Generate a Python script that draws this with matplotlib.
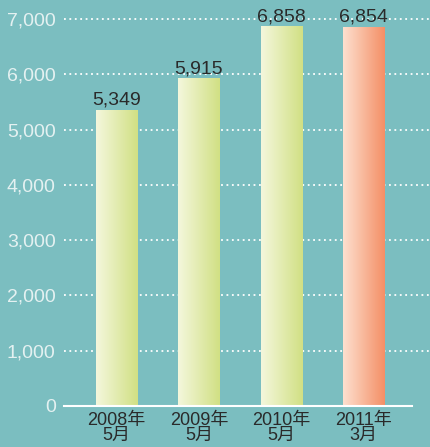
import numpy as np
import matplotlib.pyplot as plt
from matplotlib.colors import LinearSegmentedColormap

plt.rcParams['font.family'] = ['Liberation Sans', 'Noto Sans CJK JP', 'DejaVu Sans']

# データ
labels = ['2008年\n5月', '2009年\n5月', '2010年\n5月', '2011年\n3月']
values = [5349, 5915, 6858, 6854]
yticks = [0, 1000, 2000, 3000, 4000, 5000, 6000, 7000]

bg = '#7bbec0'
green = LinearSegmentedColormap.from_list('g', ['#f4f7dc', '#d1e084'])
orange = LinearSegmentedColormap.from_list('o', ['#fde0cf', '#f48f66'])
cmaps = [green, green, green, orange]

fig = plt.figure(figsize=(4.31, 4.47), dpi=100, facecolor=bg)
ax = fig.add_axes([64/431, 41/447, 1 - 64/431, 406/447])
ax.set_facecolor(bg)

x = np.arange(len(values))
w = 0.5
ymax = 7000 * 406 / 387

# 点線のグリッド
for t in yticks[1:]:
    ax.axhline(t, color='white', lw=1.3, ls=(0, (1, 2)), zorder=1)

# グラデーションの棒
grad = np.linspace(0, 1, 100).reshape(1, -1)
for xi, v, cm in zip(x, values, cmaps):
    ax.imshow(grad, cmap=cm, aspect='auto', extent=[xi - w/2, xi + w/2, 0, v],
              zorder=2, interpolation='bilinear')
    ax.text(xi, v + 25, f'{v:,}', ha='center', va='bottom', fontsize=14,
            color='#2a2a2a', zorder=3)

ax.set_xlim(-0.638, 3.82)
ax.set_ylim(0, ymax)

# x軸の線
ax.axhline(0, xmin=0, xmax=(412 - 64) / (431 - 64), color='white', lw=1.5,
           zorder=3, clip_on=False)

for s in ax.spines.values():
    s.set_visible(False)

ax.set_yticks(yticks)
ax.set_yticklabels([f'{t:,}' for t in yticks], fontsize=14, color='#e4f1f1')
ax.set_xticks(x)
ax.set_xticklabels(labels, fontsize=13, color='#2a2a2a', linespacing=0.88)
ax.tick_params(axis='both', length=0)
ax.tick_params(axis='y', pad=6)
ax.tick_params(axis='x', pad=4)

fig.savefig('out.png', dpi=100, facecolor=bg)
